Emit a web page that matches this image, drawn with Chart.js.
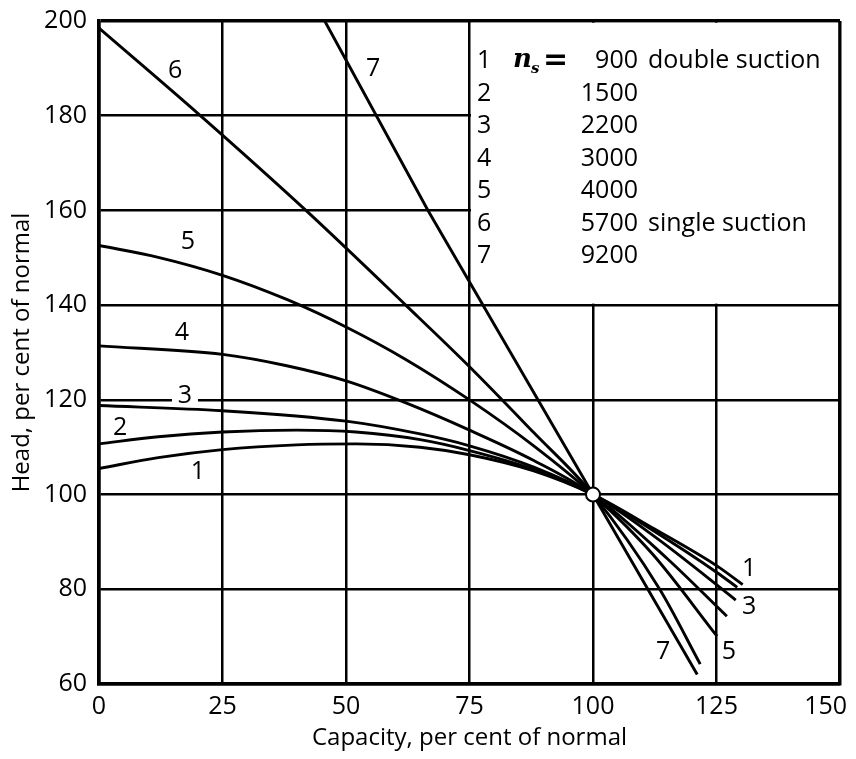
<!DOCTYPE html>
<html>
<head>
<meta charset="utf-8">
<script src="https://cdn.jsdelivr.net/npm/chart.js@4.4.0/dist/chart.umd.min.js"></script>
<style>
  html, body { margin: 0; padding: 0; background: #fff; }
  canvas { display: block; }
</style>
</head>
<body>
<canvas id="chart" width="856" height="759"></canvas>
<script>
// tick labels
const xTicks = [0, 25, 50, 75, 100, 125, 150];
const yTicks = [60, 80, 100, 120, 140, 160, 180, 200];

// legend content
const curveNames = ['1', '2', '3', '4', '5', '6', '7'];
const specificSpeeds = ['900', '1500', '2200', '3000', '4000', '5700', '9200'];
const suctionNotes = ['double suction', '', '', '', '', 'single suction', ''];

// head-capacity curves (capacity %, head %)
const cap1 = [0, 12, 25, 40, 52, 65, 75, 88, 100, 112, 125, 130.3];
const head1 = [105.5, 107.8, 109.5, 110.5, 110.7, 110.0, 108.4, 105.0, 100, 93.0, 85.0, 81.0];

const cap2 = [0, 12, 25, 40, 52, 65, 75, 88, 100, 112, 125, 129.2];
const head2 = [110.7, 112.2, 113.2, 113.6, 113.2, 111.6, 109.3, 105.3, 100, 92.5, 83.6, 80.4];

const cap3 = [0, 25, 50, 65, 75, 88, 100, 112, 125, 128.9];
const head3 = [118.8, 117.7, 115.5, 112.8, 110.3, 105.8, 100, 91.5, 81.0, 77.7];

const cap4 = [0, 25, 38, 50, 62, 75, 88, 100, 115, 127.1];
const head4 = [131.4, 129.6, 127.2, 124.0, 119.4, 113.6, 107.2, 100, 86.5, 74.3];

const cap5 = [0, 12, 25, 38, 50, 62, 75, 88, 100, 112, 125.1];
const head5 = [152.6, 150.1, 146.3, 141.2, 135.4, 128.6, 120.0, 110.3, 100, 87.5, 70.1];

const cap6 = [0, 20, 42, 62.3, 75, 88, 100, 113.5, 121.7];
const head6 = [198.5, 180.5, 159.9, 139.8, 127.0, 113.1, 100, 80, 64.2];

const cap7 = [45.7, 66.6, 100, 121.1];
const head7 = [200, 160, 100, 62];

// normal operating point
const normalCap = [100];
const normalHead = [100];

const caps = [cap1, cap2, cap3, cap4, cap5, cap6, cap7];
const heads = [head1, head2, head3, head4, head5, head6, head7];

const FONT = "'Open Sans', sans-serif";

function toPoints(xs, ys) {
  return xs.map((v, i) => ({ x: v, y: ys[i] }));
}

const curveSets = caps.map((xs, i) => ({
  label: curveNames[i],
  data: toPoints(xs, heads[i]),
  showLine: true,
  borderColor: '#000',
  borderWidth: 2.9,
  pointRadius: 0,
  cubicInterpolationMode: i === 6 ? 'default' : 'monotone',
  tension: 0,
  order: 1
}));

const pointSet = {
  label: 'normal',
  data: toPoints(normalCap, normalHead),
  pointRadius: 7,
  pointBackgroundColor: '#fff',
  pointBorderColor: '#000',
  pointBorderWidth: 2,
  showLine: false,
  order: 0
};

// white legend panel in the upper right corner, over the grid
const panelPlugin = {
  id: 'panel',
  beforeDatasetsDraw(chart) {
    const { ctx, scales: { x, y } } = chart;
    const l = x.getPixelForValue(75), r = x.getPixelForValue(150);
    const t = y.getPixelForValue(200), b = y.getPixelForValue(140);
    ctx.save();
    ctx.fillStyle = '#fff';
    ctx.fillRect(l + 1.5, t + 1.8, r - l - 3.3, b - t - 3.3);
    ctx.restore();
  },
  afterDatasetsDraw(chart) {
    const { ctx, scales: { x, y } } = chart;
    const top = y.getPixelForValue(200);
    ctx.save();
    ctx.fillStyle = '#000';
    ctx.textBaseline = 'middle';
    for (let i = 0; i < curveNames.length; i++) {
      const ry = top + 40 + i * 32.5;
      ctx.font = '25px ' + FONT;
      ctx.textAlign = 'left';
      ctx.fillText(curveNames[i], 477, ry);
      ctx.textAlign = 'right';
      ctx.fillText(specificSpeeds[i], 638, ry);
      if (suctionNotes[i]) {
        ctx.textAlign = 'left';
        ctx.fillText(suctionNotes[i], 648, ry);
      }
      if (i === 0) {
        ctx.textAlign = 'left';
        ctx.font = 'italic bold 26px "DejaVu Serif", serif';
        ctx.fillText('n', 513, ry - 1);
        ctx.font = 'italic bold 15px "DejaVu Serif", serif';
        ctx.fillText('s', 531, ry + 8);
        ctx.font = 'bold 30px "DejaVu Sans", sans-serif';
        ctx.fillText('=', 543, ry);
      }
    }

    // curve numbers
    const tags = [
      ['6', 15.4, 189.7, false], ['7', 55.5, 190.1, false],
      ['5', 18, 153.5, false], ['4', 16.8, 134.3, false],
      ['3', 17.4, 121.0, true], ['2', 4.3, 114.4, false],
      ['1', 20, 104.9, false], ['1', 131.6, 84.6, false],
      ['3', 131.6, 76.4, false], ['5', 127.5, 67, false],
      ['7', 114.2, 67, false]
    ];
    ctx.font = '25px ' + FONT;
    ctx.textAlign = 'center';
    tags.forEach(([txt, cx, cy, knock]) => {
      const px = x.getPixelForValue(cx), py = y.getPixelForValue(cy);
      if (knock) {
        ctx.fillStyle = '#fff';
        ctx.fillRect(px - 13, py - 10, 26, 20);
      }
      ctx.fillStyle = '#000';
      ctx.fillText(txt, px, py + 1);
    });
    ctx.restore();
  }
};

new Chart(document.getElementById('chart'), {
  type: 'scatter',
  data: { datasets: [pointSet, ...curveSets] },
  options: {
    responsive: false,
    animation: false,
    layout: { padding: { left: 0, top: 21, right: 16, bottom: 0 } },
    plugins: {
      legend: { display: false },
      tooltip: { enabled: false }
    },
    scales: {
      x: {
        type: 'linear',
        min: 0,
        max: 150,
        afterBuildTicks(scale) {
          scale.ticks = xTicks.map(v => ({ value: v }));
        },
        afterFit(scale) {
          scale.height = 75;
          scale.paddingLeft = 0;
          scale.paddingRight = 0;
        },
        ticks: {
          color: '#000',
          padding: 8,
          maxRotation: 0,
          font: { family: FONT, size: 25 },
          // keep the last label inside the page, as in the scan
          callback: v => (v === 150 ? '150\u2007\u2007' : String(v))
        },
        grid: {
          color: '#000',
          lineWidth: c => (c.tick && c.tick.value === 150 ? 3.5 : 2.5),
          drawTicks: false
        },
        border: { display: true, color: '#000', width: 3.5 },
        title: {
          display: true,
          text: 'Capacity, per cent of normal',
          color: '#000',
          font: { family: FONT, size: 24 },
          padding: { top: 6, bottom: 6 }
        }
      },
      y: {
        type: 'linear',
        min: 60,
        max: 200,
        afterBuildTicks(scale) {
          scale.ticks = yTicks.map(v => ({ value: v }));
        },
        afterFit(scale) {
          scale.width = 99;
          scale.paddingTop = 0;
          scale.paddingBottom = 0;
        },
        ticks: {
          color: '#000',
          padding: 12,
          font: { family: FONT, size: 25 }
        },
        grid: {
          color: '#000',
          lineWidth: c => (c.tick && c.tick.value === 200 ? 3.5 : 2.5),
          drawTicks: false
        },
        border: { display: true, color: '#000', width: 3.5 },
        title: {
          display: true,
          text: 'Head, per cent of normal',
          color: '#000',
          font: { family: FONT, size: 24 },
          padding: { top: 8, bottom: 8 }
        }
      }
    }
  },
  plugins: [panelPlugin]
});
</script>
</body>
</html>
